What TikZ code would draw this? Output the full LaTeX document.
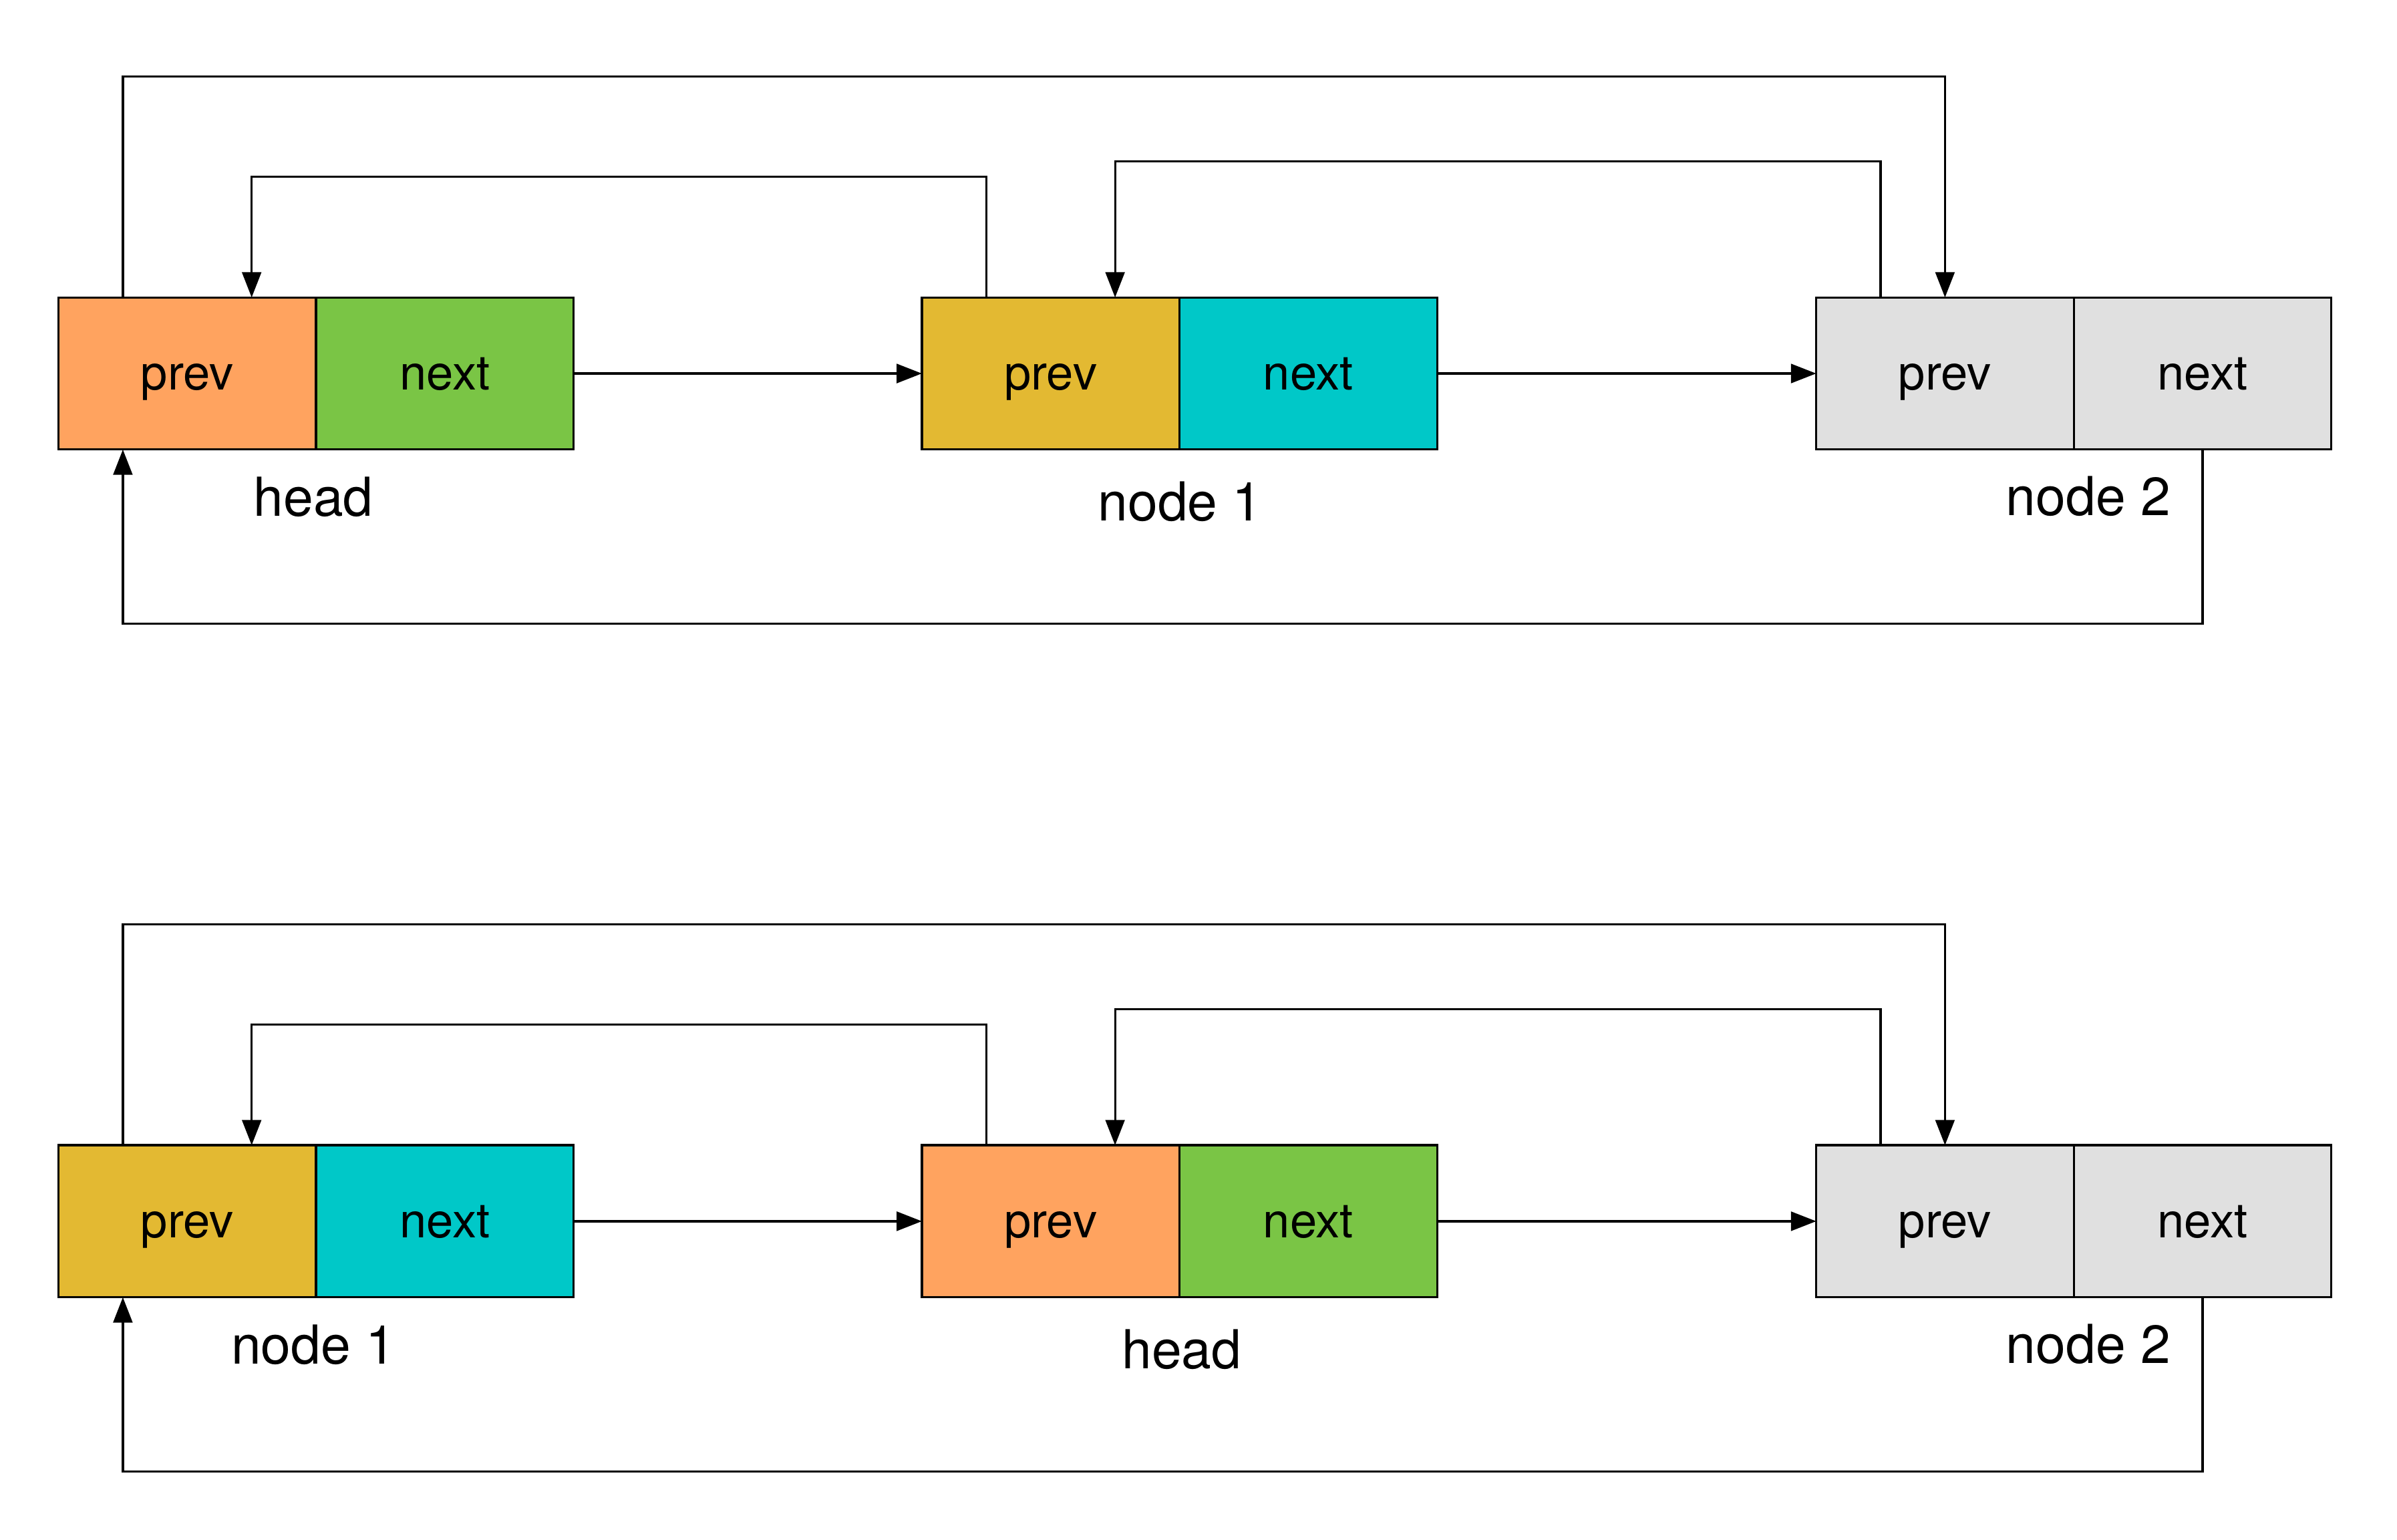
\documentclass[tikz,border=0pt]{standalone}
\usepackage{fontspec}
\setmainfont{TeX Gyre Heros}
\usepackage{xcolor}
\usetikzlibrary{arrows.meta,positioning,calc}

\definecolor{headorange}{HTML}{FFA35F}
\definecolor{headgreen}{HTML}{7AC545}
\definecolor{oneyellow}{HTML}{E3B932}
\definecolor{onecyan}{HTML}{00C8C8}
\definecolor{twogray}{HTML}{E0E0E0}

\tikzset{
  cell/.style={rectangle,draw,inner sep=0pt,outer sep=0pt,minimum width=1.685cm,minimum height=0.995cm,
    text height=7pt,text depth=0.8pt,font=\fontsize{9}{11}\selectfont},
  tag/.style={anchor=base,inner sep=0pt,font=\fontsize{10}{12}\selectfont},
  link/.style={-{Triangle[length=1.65mm,width=1.25mm]}}
}

\begin{document}
\begin{tikzpicture}
\useasboundingbox (0,0) rectangle (15.68,-10.07);

% Top list: head, node 1, node 2
\node[cell,fill=headorange] (headprev) at (1.225,-2.443) {prev};
\node[cell,fill=headgreen,right=0pt of headprev] (headnext) {next};
\node[cell,fill=oneyellow] (oneprev) at (6.873,-2.443) {prev};
\node[cell,fill=onecyan,right=0pt of oneprev] (onenext) {next};
\node[cell,fill=twogray] (twoprev) at (12.723,-2.443) {prev};
\node[cell,fill=twogray,right=0pt of twoprev] (twonext) {next};

\node[tag] (headlbl) at (2.05,-3.376) {head};
\node[tag] (onelbl) at (7.72,-3.407) {node 1};
\node[tag] (twolbl) at (13.66,-3.37) {node 2};

\draw[link] (headnext.east) -- (oneprev.west);
\draw[link] (onenext.east) -- (twoprev.west);
\draw[link] ($(headprev.north west)!.25!(headprev.north east)$) -- ++(0,1.446) -| (twoprev.north);
\draw[link] ($(oneprev.north west)!.25!(oneprev.north east)$) -- ++(0,0.788) -| ($(headprev.north west)!.75!(headprev.north east)$);
\draw[link] ($(twoprev.north west)!.25!(twoprev.north east)$) -- ++(0,0.891) -| ($(oneprev.north west)!.75!(oneprev.north east)$);
\draw[link] (twonext.south) -- ++(0,-1.14) -| ($(headprev.south west)!.25!(headprev.south east)$);

% Bottom list: node 1, head, node 2
\node[cell,fill=oneyellow] (bheadprev) at (1.225,-7.988) {prev};
\node[cell,fill=onecyan,right=0pt of bheadprev] (bheadnext) {next};
\node[cell,fill=headorange] (boneprev) at (6.873,-7.988) {prev};
\node[cell,fill=headgreen,right=0pt of boneprev] (bonenext) {next};
\node[cell,fill=twogray] (btwoprev) at (12.723,-7.988) {prev};
\node[cell,fill=twogray,right=0pt of btwoprev] (btwonext) {next};

\node[tag] (bheadlbl) at (2.05,-8.921) {node 1};
\node[tag] (bonelbl) at (7.73,-8.952) {head};
\node[tag] (btwolbl) at (13.66,-8.915) {node 2};

\draw[link] (bheadnext.east) -- (boneprev.west);
\draw[link] (bonenext.east) -- (btwoprev.west);
\draw[link] ($(bheadprev.north west)!.25!(bheadprev.north east)$) -- ++(0,1.446) -| (btwoprev.north);
\draw[link] ($(boneprev.north west)!.25!(boneprev.north east)$) -- ++(0,0.788) -| ($(bheadprev.north west)!.75!(bheadprev.north east)$);
\draw[link] ($(btwoprev.north west)!.25!(btwoprev.north east)$) -- ++(0,0.891) -| ($(boneprev.north west)!.75!(boneprev.north east)$);
\draw[link] (btwonext.south) -- ++(0,-1.14) -| ($(bheadprev.south west)!.25!(bheadprev.south east)$);
\end{tikzpicture}
\end{document}
